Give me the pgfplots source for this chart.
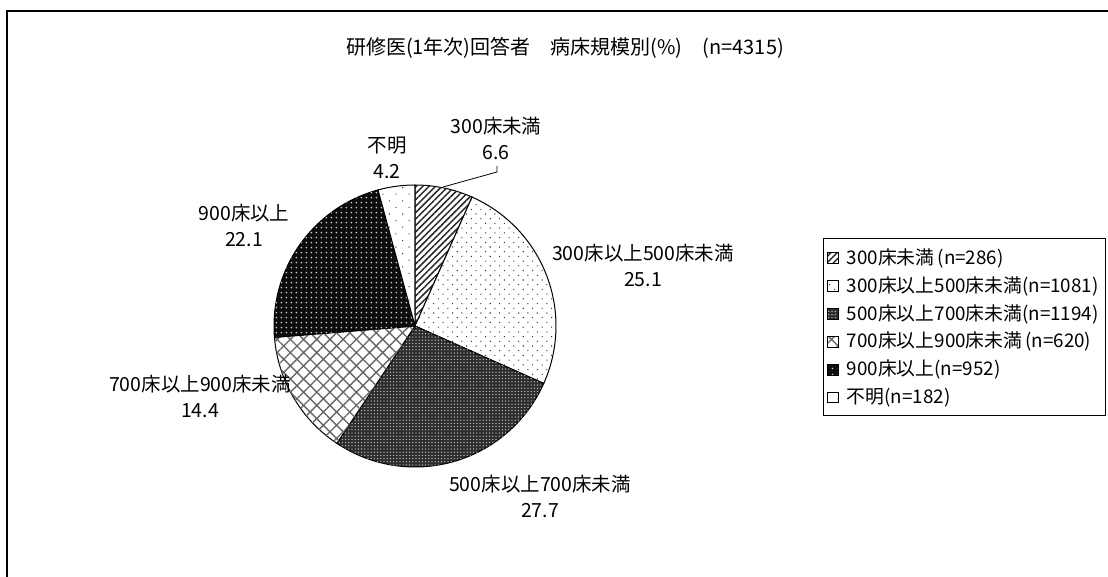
\documentclass[border=0pt]{standalone}
\usepackage{fontspec}
\setmainfont{Noto Sans CJK JP}
\usepackage{pgfplots}
\pgfplotsset{compat=1.18}
\usepackage{pgfplotstable}
\usetikzlibrary{patterns,patterns.meta}

\newcommand\lab{\fontsize{14.6}{19.5}\selectfont}
\newcommand\leg{\fontsize{14.1}{17}\selectfont}

\pgfplotstableread{
name count pct lx ly
300床未満 286 6.6 496 138
300床以上500床未満 1081 25.1 643 265
500床以上700床未満 1194 27.7 540 496
700床以上900床未満 620 14.4 200 396
900床以上 952 22.1 244 225
不明 182 4.2 387 158
}\piedata

\def\cum{90}\def\total{0}
\pgfplotsforeachungrouped \i in {0,...,5}{%
  \pgfplotstablegetelem{\i}{count}\of\piedata
  \pgfmathsetmacro\total{\total+\pgfplotsretval}%
}
\pgfplotsforeachungrouped \i in {0,...,5}{%
  \pgfplotstablegetelem{\i}{count}\of\piedata
  \expandafter\xdef\csname sa\i\endcsname{\cum}%
  \pgfmathsetmacro\cum{\cum-360*(\pgfplotsretval/\total)}%
  \expandafter\xdef\csname ea\i\endcsname{\cum}%
  \pgfplotstablegetelem{\i}{name}\of\piedata
  \expandafter\xdef\csname nm\i\endcsname{\pgfplotsretval}%
  \pgfplotstablegetelem{\i}{pct}\of\piedata
  \expandafter\xdef\csname pc\i\endcsname{\pgfplotsretval}%
  \pgfplotstablegetelem{\i}{lx}\of\piedata
  \expandafter\xdef\csname lx\i\endcsname{\pgfplotsretval}%
  \pgfplotstablegetelem{\i}{ly}\of\piedata
  \expandafter\xdef\csname ly\i\endcsname{\pgfplotsretval}%
}

\tikzset{
  s0/.style={fill=white, postaction={pattern={Lines[angle=45,distance=3.4pt,line width=1.1pt]}, pattern color=black!85}},
  s1/.style={fill=white, postaction={pattern={Dots[angle=45,distance=5pt,radius=0.55pt]}, pattern color=black!80}},
  s2/.style={fill=black!82, postaction={pattern={Dots[distance=2.4pt,radius=0.5pt]}, pattern color=white!80!black}},
  s3/.style={fill=white, postaction={pattern={Hatch[angle=45,distance=7pt,line width=1pt]}, pattern color=black!60}},
  s4/.style={fill=black!95, postaction={pattern={Dots[distance=4pt,radius=0.75pt]}, pattern color=white!80!black}},
  s5/.style={fill=white, postaction={pattern={Dots[angle=45,distance=7pt,radius=0.55pt]}, pattern color=black!80}},
}

\begin{document}
\begin{tikzpicture}
\begin{axis}[
  at={(0,0)}, anchor=south west,
  scale only axis, width=831pt, height=432.75pt,
  xmin=0, xmax=1108, ymin=0, ymax=577, y dir=reverse,
  hide axis, clip=false,
  legend image code/.code={\draw[#1, line width=0.6pt] (4.5pt,-4.6pt) rectangle (12.5pt,3.4pt);},
  legend cell align=left,
  legend style={at={(axis cs:823,238)}, anchor=north west, draw=black, line width=0.6pt,
    font=\leg, row sep=3.6pt, column sep=4pt, inner xsep=3pt, inner ysep=5.5pt},
]
\addlegendimage{s0}\addlegendentry{300床未満\,(n=286)}
\addlegendimage{s1}\addlegendentry{300床以上500床未満(n=1081)}
\addlegendimage{s2}\addlegendentry{500床以上700床未満(n=1194)}
\addlegendimage{s3}\addlegendentry{700床以上900床未満\,(n=620)}
\addlegendimage{s4}\addlegendentry{900床以上(n=952)}
\addlegendimage{s5}\addlegendentry{不明(n=182)}

\pgfplotsinvokeforeach{0,...,5}{
  \draw[line width=0.75pt, s#1] (axis cs:415,326) -- ++(\csname sa#1\endcsname:105.75pt)
     arc[start angle=\csname sa#1\endcsname, end angle=\csname ea#1\endcsname, radius=105.75pt] -- cycle;
  \node[align=center, font=\lab, inner sep=0pt] at (axis cs:\csname lx#1\endcsname,\csname ly#1\endcsname)
     {\csname nm#1\endcsname\\\csname pc#1\endcsname};
}
\draw[line width=0.6pt] (axis cs:497,166) -- (axis cs:497,172) -- (axis cs:443,187);
\node[font=\fontsize{15}{18}\selectfont] at (axis cs:565,48) {研修医(1年次)回答者　病床規模別(\%)　(n=4315)};
\draw[line width=1.5pt] (axis cs:7,620) -- (axis cs:7,11) -- (axis cs:1200,11);
\end{axis}
\pgfresetboundingbox
\useasboundingbox (0,0) rectangle (831pt,432.75pt);
\end{tikzpicture}
\end{document}
